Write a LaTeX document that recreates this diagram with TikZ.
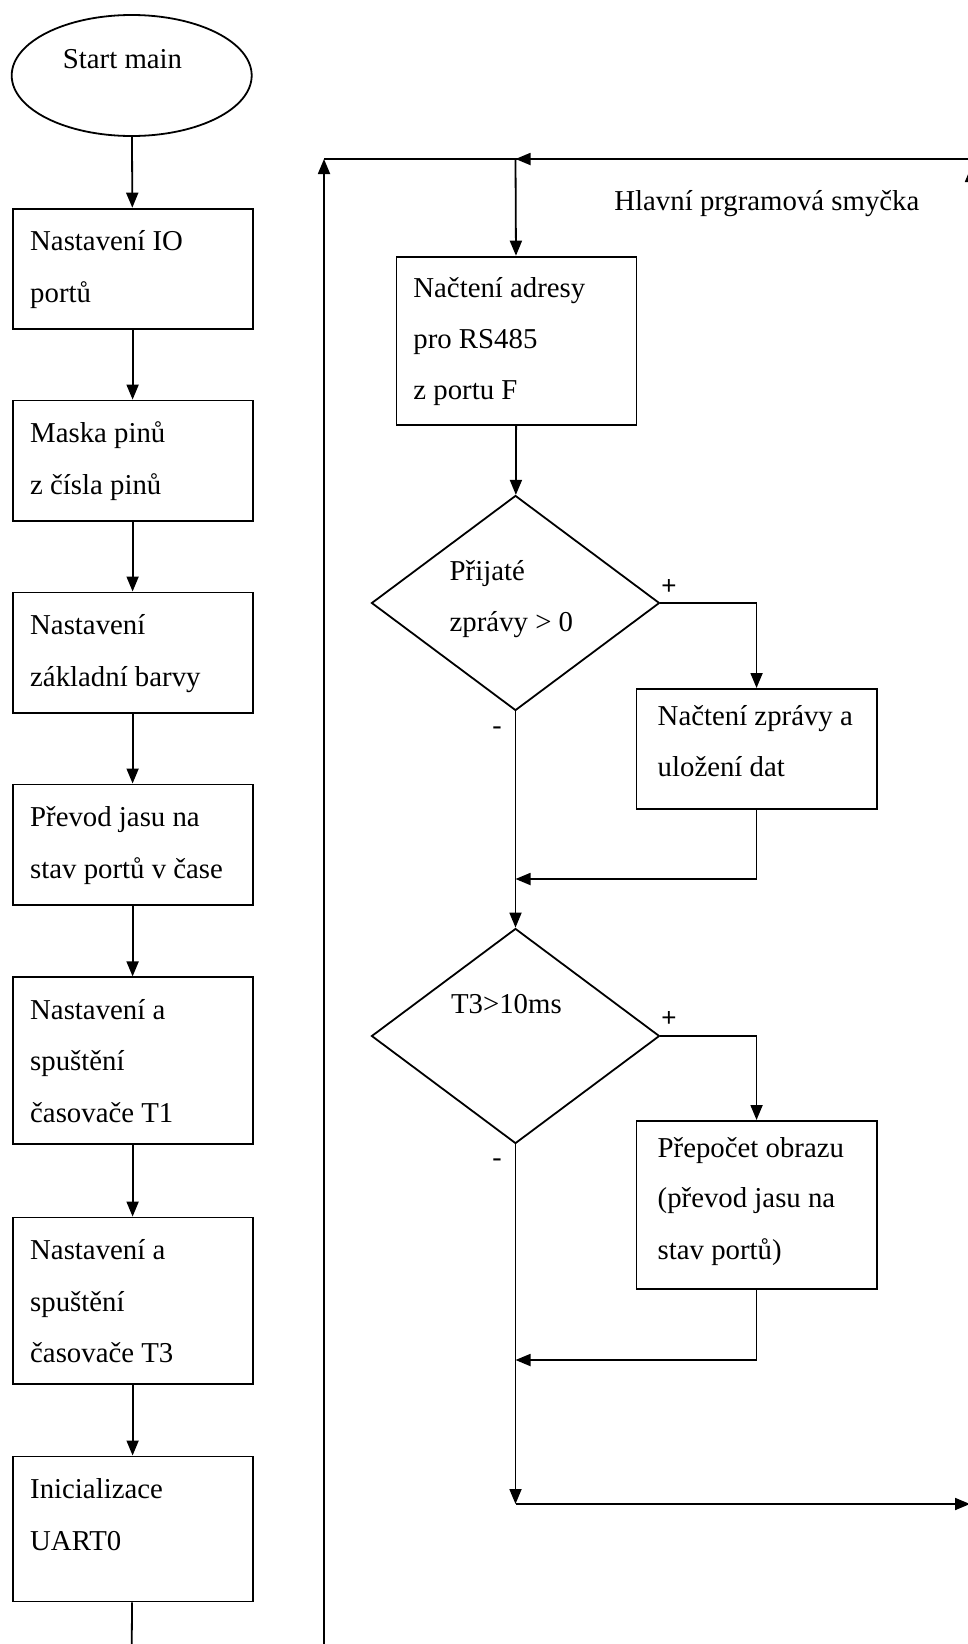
\documentclass[tikz,border=0pt]{standalone}
\usepackage{fontspec}
\setmainfont{Liberation Serif}
\newfontfamily\plusfont{Liberation Sans}
\usetikzlibrary{shapes.geometric,arrows.meta}
\begin{document}
\begin{tikzpicture}[x=1pt,y=-1pt,line width=1.8pt,
  box/.style={draw, rectangle, inner sep=0pt, anchor=north west},
  dia/.style={draw, diamond, inner sep=0pt, minimum width=288pt, minimum height=215pt},
  txt/.style={anchor=base west, inner sep=0pt, font=\fontsize{28.8}{34}\selectfont},
  sgn/.style={inner sep=0pt, font=\fontsize{28}{30}\selectfont},
  psgn/.style={inner sep=0pt, font=\plusfont\fontsize{26}{30}\selectfont},
  arr/.style={-{Triangle[length=15pt,width=12pt]}}]
\useasboundingbox (0,0) rectangle (968,1644);
\clip (0,0) rectangle (968,1644);
\fill[white] (0,0) rectangle (968,1644);

% left column
\node[draw, ellipse, inner sep=0pt, minimum width=240pt, minimum height=121pt] (start) at (131.7,75.5) {};
\node[txt] (tstart) at (62,68.3) {Start main};

\node[box, minimum width=240pt, minimum height=120.6pt] (b1) at (11.7,207.7) {};
\node[box, minimum width=240pt, minimum height=120.6pt] (b2) at (11.7,399.6) {};
\node[box, minimum width=240pt, minimum height=120.6pt] (b3) at (11.7,591.5) {};
\node[box, minimum width=240pt, minimum height=120.6pt] (b4) at (11.7,783.5) {};
\node[box, minimum width=240pt, minimum height=166.8pt] (b5) at (11.7,976.4) {};
\node[box, minimum width=240pt, minimum height=166.8pt] (b6) at (11.7,1216.6) {};
\node[box, minimum width=240pt, minimum height=145pt] (b7) at (11.7,1455.5) {};

\node[txt] (t1a) at (29.3,250.7) {Nastavení IO};
\node[txt] (t1b) at (29.3,302.2) {portů};
\node[txt] (t2a) at (29.3,442.6) {Maska pinů};
\node[txt] (t2b) at (29.3,494.1) {z čísla pinů};
\node[txt] (t3a) at (29.3,634.5) {Nastavení};
\node[txt] (t3b) at (29.3,686) {základní barvy};
\node[txt] (t4a) at (29.3,826.5) {Převod jasu na};
\node[txt] (t4b) at (29.3,878) {stav portů v čase};
\node[txt] (t5a) at (29.3,1019.4) {Nastavení a};
\node[txt] (t5b) at (29.3,1070.9) {spuštění};
\node[txt] (t5c) at (29.3,1122.4) {časovače T1};
\node[txt] (t6a) at (29.3,1259.6) {Nastavení a};
\node[txt] (t6b) at (29.3,1311.1) {spuštění};
\node[txt] (t6c) at (29.3,1362.6) {časovače T3};
\node[txt] (t7a) at (29.3,1498.5) {Inicializace};
\node[txt] (t7b) at (29.3,1550) {UART0};

\draw[arr] (start) -- (b1);
\draw[arr] (b1) -- (b2);
\draw[arr] (b2) -- (b3);
\draw[arr] (b3) -- (b4);
\draw[arr] (b4) -- (b5);
\draw[arr] (b5) -- (b6);
\draw[arr] (b6) -- (b7);
\coordinate (b7end) at (131.7,1650);
\draw (b7) -- (b7end);

% right column
\node[box, minimum width=240pt, minimum height=168.3pt] (a) at (395.5,255.7) {};
\node[txt] (ta1) at (412.5,297) {Načtení adresy};
\node[txt] (ta2) at (412.5,348) {pro RS485};
\node[txt] (ta3) at (412.5,399) {z portu F};

\node[dia] (d1) at (515.5,603) {};
\node[txt] (td1a) at (448.8,580) {Přijaté};
\node[txt] (td1b) at (448.8,631.7) {zprávy > 0};

\node[box, minimum width=240.3pt, minimum height=119.7pt] (bb) at (635.5,688) {};
\node[txt] (tb1) at (656.8,725) {Načtení zprávy a};
\node[txt] (tb2) at (656.8,776) {uložení dat};

\node[dia] (d2) at (515.5,1036) {};
\node[txt] (td2) at (450.2,1013.3) {T3>10ms};

\node[box, minimum width=240.3pt, minimum height=167.7pt] (cc) at (635.5,1120) {};
\node[txt] (tc1) at (656.8,1157.3) {Přepočet obrazu};
\node[txt] (tc2) at (656.8,1207) {(převod jasu na};
\node[txt] (tc3) at (656.8,1259) {stav portů)};

\node[txt] (title) at (613.5,210) {Hlavní prgramová smyčka};

\node[psgn] (p1) at (669,587) {+};
\node[sgn] (n1) at (497,731) {-};
\node[psgn] (p2) at (669,1019) {+};
\node[sgn] (n2) at (497,1163) {-};

% loop lines
\coordinate (lb) at (324,1650);
\coordinate (lt) at (324,159);
\coordinate (rt) at (980,159);
\coordinate (j) at (515.5,159);
\coordinate (rb) at (971,600);
\coordinate (ru) at (971,167);
\coordinate (m1) at (515.5,879);
\coordinate (m2) at (515.5,1360);
\coordinate (m3) at (515.5,1504);
\coordinate (re) at (970,1504);

\draw[arr] (lb) -- (lt);
\draw (lt) -- (rt);
\draw[arr] (rt) -- (j);
\draw[arr] (j) -- (a);
\draw[arr] (rb) -- (ru);

\draw[arr] (a) -- (d1);
\draw[arr] (d1.east) -| (bb.north);
\draw[arr] (bb.south) |- (m1);
\draw[arr] (d1.south) -- (d2.north);
\draw[arr] (d2.east) -| (cc.north);
\draw[arr] (cc.south) |- (m2);
\draw[arr] (d2.south) -- (m3);
\draw[arr] (m3) -- (re);
\end{tikzpicture}
\end{document}
